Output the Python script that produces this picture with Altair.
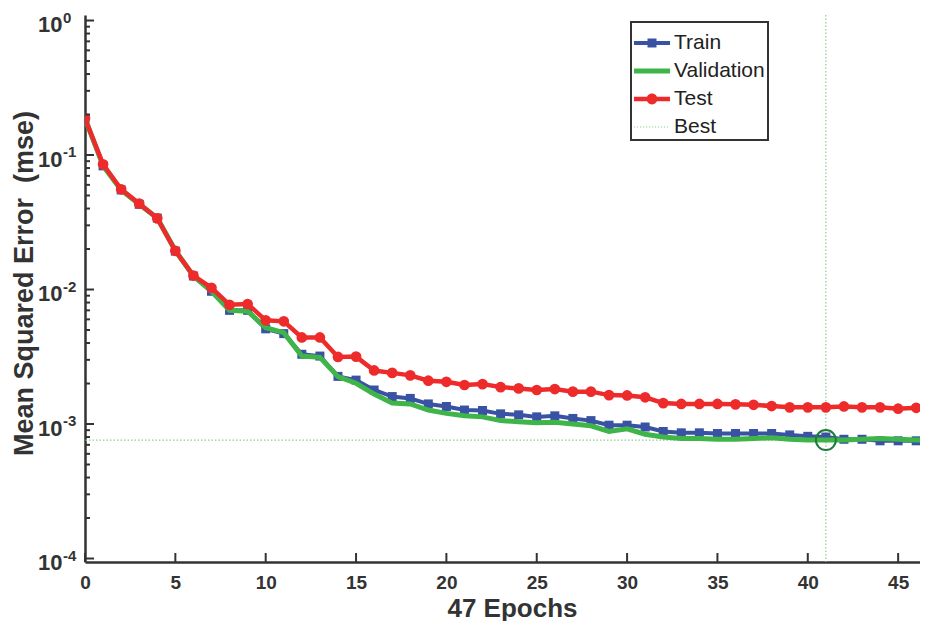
import altair as alt
import pandas as pd

# ---------------- data ----------------
epochs = list(range(48))
train = [0.187, 0.083, 0.055, 0.043, 0.034, 0.0193, 0.0126, 0.0097, 0.0070, 0.0070,
         0.0051, 0.0047, 0.0033, 0.0032, 0.00226, 0.00212, 0.00179, 0.00160, 0.00155, 0.00141,
         0.00135, 0.00127, 0.00126, 0.00119, 0.00117, 0.00113, 0.00115, 0.00110, 0.00106, 0.00098,
         0.00098, 0.00095, 0.00088, 0.00086, 0.00086, 0.00085, 0.00085, 0.00085, 0.00085, 0.00083,
         0.00081, 0.00080, 0.00077, 0.00077, 0.00075, 0.00075, 0.00075, 0.00075]
validation = [0.187, 0.083, 0.055, 0.043, 0.034, 0.0195, 0.0126, 0.0097, 0.0070, 0.0069,
              0.0052, 0.00478, 0.0032, 0.00313, 0.00225, 0.00201, 0.00167, 0.00143, 0.00141, 0.00127,
              0.00120, 0.00115, 0.00113, 0.00106, 0.00104, 0.00102, 0.00103, 0.00100, 0.00097, 0.00088,
              0.00092, 0.00084, 0.00080, 0.00078, 0.00078, 0.00077, 0.00077, 0.00078, 0.00079, 0.00077,
              0.00076, 0.00076, 0.00076, 0.00077, 0.00078, 0.00077, 0.00076, 0.00076]
test = [0.1875, 0.0853, 0.0556, 0.0435, 0.0338, 0.0194, 0.0127, 0.0103, 0.0077, 0.0078,
        0.0059, 0.0058, 0.0044, 0.0044, 0.00315, 0.00317, 0.00250, 0.00240, 0.00230, 0.00210,
        0.00206, 0.00195, 0.00198, 0.00188, 0.00184, 0.00179, 0.00182, 0.00174, 0.00174, 0.00164,
        0.00163, 0.00158, 0.00143, 0.00141, 0.00141, 0.00141, 0.00140, 0.00139, 0.00136, 0.00133,
        0.00133, 0.00133, 0.00135, 0.00133, 0.00133, 0.00130, 0.00132, 0.00130]
best_epoch = 41
best_value = 0.00076

series_names = ["Train", "Validation", "Test", "Best"]
series_colors = ["#3A52A4", "#3FB549", "#EE2B2B", "#8FCB8F"]

x_ticks = [0, 5, 10, 15, 20, 25, 30, 35, 40, 45]
y_major = [1e-4, 1e-3, 1e-2, 1e-1, 1.0]
y_exponents = ["-4", "-3", "-2", "-1", "0"]
y_minor_mult = [2, 3, 4, 5, 6, 7, 8, 9]

x_domain = [0, 46.21]
y_domain = [9.42e-5, 1.099]

# ---------------- styling ----------------
FONT = "Liberation Sans"
AX = "#333333"
W, H = 835, 547

df = pd.DataFrame({
    "epoch": epochs * 3,
    "mse": train + validation + test,
    "series": ["Train"] * len(epochs) + ["Validation"] * len(epochs) + ["Test"] * len(epochs),
})
df_train = df[df.series == "Train"]
df_val = df[df.series == "Validation"]
df_test = df[df.series == "Test"]

x_axis = alt.Axis(values=x_ticks, ticks=False, grid=False, domainColor=AX, domainWidth=2.5,
                  labelFont=FONT, labelFontSize=19, labelFontWeight="bold", labelColor=AX,
                  labelPadding=11, labelFlush=False,
                  title="47 Epochs", titleFont=FONT, titleFontSize=26, titleFontWeight="bold",
                  titleColor=AX, titleX=427, titleY=54, titleBaseline="alphabetic", titleAlign="center")
y_axis = alt.Axis(values=y_major, ticks=False, grid=False, domainColor=AX, domainWidth=2.5,
                  labelExpr="'10'", labelFont=FONT, labelFontSize=22, labelFontWeight="bold",
                  labelColor=AX, labelPadding=23, labelOffset=4, labelFlush=False,
                  title="Mean Squared Error\u00a0 (mse)", titleFont=FONT, titleFontSize=27,
                  titleFontWeight="bold", titleColor=AX, titleX=-61, titleY=268, titleAngle=270,
                  titleAlign="center", titleBaseline="middle")


def xe():
    return alt.X("epoch:Q", scale=alt.Scale(domain=x_domain, nice=False, zero=False), axis=x_axis)


def ye():
    return alt.Y("mse:Q", scale=alt.Scale(type="log", domain=y_domain, nice=False), axis=y_axis)


# best lines
best_v = alt.Chart(pd.DataFrame({"epoch": [best_epoch]})).mark_rule(
    color="#8FCB8F", strokeWidth=1.2, strokeDash=[1.5, 2]).encode(x=xe())
best_h = alt.Chart(pd.DataFrame({"mse": [best_value]})).mark_rule(
    color="#8FCB8F", strokeWidth=1.2, strokeDash=[1.5, 2]).encode(y=ye())

train_line = alt.Chart(df_train).mark_line(color=series_colors[0], strokeWidth=4, clip=True).encode(x=xe(), y=ye())
train_pts = alt.Chart(df_train).mark_square(color=series_colors[0], size=81, opacity=1, clip=True).encode(x=xe(), y=ye())
val_line = alt.Chart(df_val).mark_line(color=series_colors[1], strokeWidth=5, clip=True).encode(x=xe(), y=ye())
test_line = alt.Chart(df_test).mark_line(color=series_colors[2], strokeWidth=4.5, clip=True).encode(x=xe(), y=ye())
test_pts = alt.Chart(df_test).mark_circle(color=series_colors[2], size=115, opacity=1, clip=True).encode(x=xe(), y=ye())

best_circle = alt.Chart(pd.DataFrame({"epoch": [best_epoch], "mse": [best_value]})).mark_point(
    shape="circle", filled=False, size=400, strokeWidth=2, color="#1E7B3A", opacity=1).encode(x=xe(), y=ye())

# inward ticks
y_minor = [m * v for v in y_major[:-1] for m in y_minor_mult]
ytick_major = alt.Chart(pd.DataFrame({"mse": y_major})).mark_rule(color=AX, strokeWidth=2).encode(
    y=ye(), x=alt.value(0), x2=alt.value(9))
ytick_minor = alt.Chart(pd.DataFrame({"mse": y_minor})).mark_rule(color=AX, strokeWidth=2).encode(
    y=ye(), x=alt.value(0), x2=alt.value(5))
xtick = alt.Chart(pd.DataFrame({"epoch": x_ticks})).mark_rule(color=AX, strokeWidth=2).encode(
    x=xe(), y=alt.value(H), y2=alt.value(H - 9))
y_exp = alt.Chart(pd.DataFrame({"mse": y_major, "exp": y_exponents})).mark_text(
    align="left", baseline="alphabetic", dy=2, font=FONT, fontSize=15, fontWeight="bold", color=AX
).encode(y=ye(), x=alt.value(-22), text="exp:N")

# legend (custom symbols, points placed outside the domain and clipped)
u = 1.0 / 18.0
best_path = " ".join(
    f"M{-1 + i * 3 * u:.3f},{-0.6 * u:.3f}H{-1 + i * 3 * u + 1.2 * u:.3f}V{0.6 * u:.3f}H{-1 + i * 3 * u:.3f}Z"
    for i in range(12))
legend_paths = [
    "M-1,-0.11H1V0.11H-1Z M-0.25,-0.25H0.25V0.25H-0.25Z",
    "M-1,-0.14H1V0.14H-1Z",
    "M-1,-0.12H1V0.12H-1Z M-0.3,0A0.3,0.3 0 1,1 0.3,0A0.3,0.3 0 1,1 -0.3,0Z",
    best_path,
]
leg = alt.Legend(title=None, orient="none", legendX=546, legendY=7, symbolSize=1296,
                 symbolStrokeWidth=0, labelFont=FONT, labelFontSize=21, labelColor="#222222",
                 labelOffset=4, rowPadding=0, padding=3, fillColor="white", strokeColor=AX)
legend_layer = alt.Chart(pd.DataFrame({"epoch": [-5] * 4, "mse": [0.01] * 4, "series": series_names})).mark_point(
    filled=True, opacity=1, clip=True).encode(
    x=xe(), y=ye(),
    color=alt.Color("series:N", scale=alt.Scale(domain=series_names, range=series_colors), legend=leg),
    shape=alt.Shape("series:N", scale=alt.Scale(domain=series_names, range=legend_paths), legend=leg),
)

chart = alt.layer(
    best_v, best_h, train_line, train_pts, val_line, test_line, test_pts, best_circle,
    ytick_major, ytick_minor, xtick, y_exp, legend_layer
).properties(
    width=W, height=H,
    autosize=alt.AutoSizeParams(type="none"),
    padding={"left": 77, "top": 7, "right": 0, "bottom": 59},
).configure_view(strokeWidth=0).configure_legend(strokeWidth=2)

chart.save("out.html", embed_options={"renderer": "svg", "actions": False})
